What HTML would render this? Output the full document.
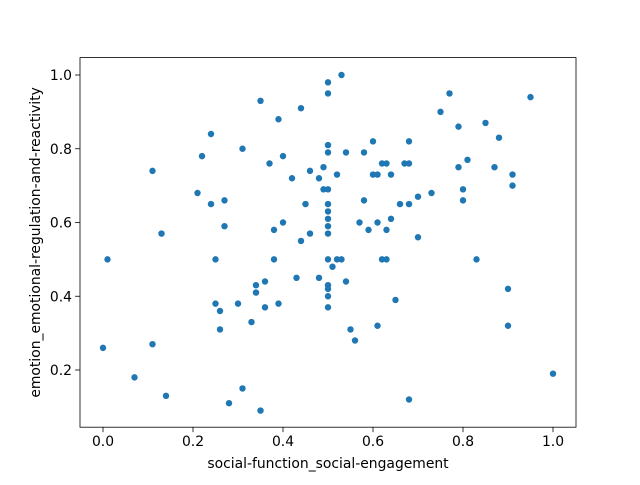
<!DOCTYPE html>
<html><head><meta charset="utf-8"><style>
body{margin:0;background:#fff;}
svg text{font-family:"DejaVu Sans","Liberation Sans",sans-serif;font-size:13.9px;fill:#000;}
</style></head><body>
<svg id="chart" width="640" height="480" xmlns="http://www.w3.org/2000/svg">
<rect width="640" height="480" fill="#fff"/>
<g id="points"></g>
<g id="axes"></g>
</svg>
<script>
const xValues=[0.01,0.00,0.07,0.11,0.11,0.13,0.14,0.21,0.22,0.24,0.24,0.25,0.25,0.26,0.26,0.27,0.27,0.28,0.30,0.31,0.31,0.33,0.34,0.34,0.35,0.35,0.36,0.36,0.37,0.38,0.38,0.39,0.39,0.40,0.40,0.42,0.43,0.44,0.44,0.45,0.46,0.46,0.48,0.48,0.49,0.49,
0.5,0.5,0.5,0.5,0.5,0.5,0.5,0.5,0.5,0.5,0.5,0.5,0.5,0.5,0.5,
0.51,0.52,0.52,0.53,0.53,0.54,0.54,0.55,0.56,0.57,0.58,0.58,0.59,0.60,0.60,0.61,0.61,0.61,0.62,0.62,0.63,0.63,0.63,0.64,0.64,0.65,0.66,0.67,0.68,0.68,0.68,0.68,0.70,0.70,0.73,0.75,0.77,0.79,0.79,0.80,0.80,0.81,0.83,0.85,0.87,0.88,0.90,0.90,0.91,0.91,0.95,1.00];
const yValues=[0.50,0.26,0.18,0.74,0.27,0.57,0.13,0.68,0.78,0.84,0.65,0.50,0.38,0.36,0.31,0.66,0.59,0.11,0.38,0.80,0.15,0.33,0.43,0.41,0.93,0.09,0.44,0.37,0.76,0.58,0.50,0.88,0.38,0.78,0.60,0.72,0.45,0.91,0.55,0.65,0.74,0.57,0.72,0.45,0.75,0.69,
0.98,0.95,0.81,0.79,0.69,0.65,0.63,0.61,0.59,0.57,0.50,0.43,0.42,0.40,0.37,
0.48,0.73,0.50,0.50,1.00,0.79,0.44,0.31,0.28,0.60,0.79,0.66,0.58,0.82,0.73,0.73,0.60,0.32,0.76,0.50,0.76,0.50,0.58,0.73,0.61,0.39,0.65,0.76,0.76,0.82,0.65,0.12,0.67,0.56,0.68,0.90,0.95,0.86,0.75,0.69,0.66,0.77,0.50,0.87,0.75,0.83,0.42,0.32,0.73,0.70,0.94,0.19];
const xTicks=[0.0,0.2,0.4,0.6,0.8,1.0];
const yTicks=[0.2,0.4,0.6,0.8,1.0];
const xLabel="social-function_social-engagement";
const yLabel="emotion_emotional-regulation-and-reactivity";

const L=80,R=576,T=57.6,B=427.2;
const sx=v=>103+v*450;
const sy=v=>443.75-v*368.75;
const NS="http://www.w3.org/2000/svg";
const pts=document.getElementById('points');
const ax=document.getElementById('axes');
function mk(tag,attrs,parent){const e=document.createElementNS(NS,tag);for(const k in attrs)e.setAttribute(k,attrs[k]);parent.appendChild(e);return e;}
xValues.forEach((x,i)=>{
  const c=mk('circle',{cx:sx(x),cy:sy(yValues[i]),r:3.2,fill:'#1f77b4'},pts);
  
  
});
const frame=mk('rect',{x:L,y:T,width:R-L,height:B-T,fill:'none',stroke:'#000','stroke-width':0.8},ax);


xTicks.forEach(t=>{
  const x=sx(t);
  mk('line',{x1:x,x2:x,y1:B,y2:B+4.9,stroke:'#000','stroke-width':0.8},ax);
  const tx=mk('text',{x:x,y:B+19,'text-anchor':'middle'},ax);
  tx.textContent=t.toFixed(1);
  
  
});
yTicks.forEach(t=>{
  const y=sy(t);
  mk('line',{x1:L-4.9,x2:L,y1:y,y2:y,stroke:'#000','stroke-width':0.8},ax);
  const tx=mk('text',{x:L-8,y:y+5,'text-anchor':'end'},ax);
  tx.textContent=t.toFixed(1);
  
  
});
const xl=mk('text',{x:(L+R)/2,y:468,'text-anchor':'middle'},ax);
xl.textContent=xLabel;


const yl=mk('text',{x:0,y:0,'text-anchor':'middle',transform:`translate(40,${(T+B)/2}) rotate(-90)`},ax);
yl.textContent=yLabel;


</script>
</body></html>
